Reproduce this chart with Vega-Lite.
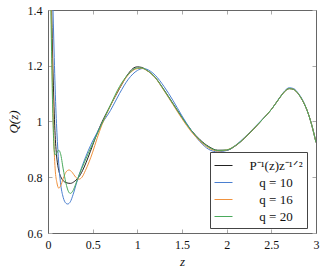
{
  "$schema": "https://vega.github.io/schema/vega-lite/v6.json",
  "autosize": "none",
  "width": 268,
  "height": 223,
  "padding": {"left": 48, "top": 10, "right": 10, "bottom": 37},
  "config": {
    "font": "Liberation Serif, Times New Roman, serif",
    "view": {"stroke": null},
    "axis": {"grid": false, "domainColor": "#666", "domainWidth": 1, "tickColor": "#aaa", "tickSize": -4, "labelFont": "Liberation Serif, Times New Roman, serif", "labelFontSize": 12, "labelColor": "#111", "titleFont": "Liberation Serif, Times New Roman, serif", "titleFontStyle": "italic", "titleFontWeight": "normal", "titleFontSize": 13, "titleColor": "#111"}
  },
  "data": {"values": [
    {"z":0.03,"Q":1.60,"series":"P⁻¹(z)z⁻¹ᐟ²"},{"z":0.04,"Q":1.42,"series":"P⁻¹(z)z⁻¹ᐟ²"},{"z":0.05,"Q":1.26,"series":"P⁻¹(z)z⁻¹ᐟ²"},{"z":0.06,"Q":1.13,"series":"P⁻¹(z)z⁻¹ᐟ²"},{"z":0.07,"Q":1.03,"series":"P⁻¹(z)z⁻¹ᐟ²"},{"z":0.08,"Q":0.95,"series":"P⁻¹(z)z⁻¹ᐟ²"},{"z":0.09,"Q":0.90,"series":"P⁻¹(z)z⁻¹ᐟ²"},{"z":0.1,"Q":0.865,"series":"P⁻¹(z)z⁻¹ᐟ²"},{"z":0.12,"Q":0.825,"series":"P⁻¹(z)z⁻¹ᐟ²"},{"z":0.15,"Q":0.797,"series":"P⁻¹(z)z⁻¹ᐟ²"},{"z":0.2,"Q":0.781,"series":"P⁻¹(z)z⁻¹ᐟ²"},{"z":0.25,"Q":0.778,"series":"P⁻¹(z)z⁻¹ᐟ²"},{"z":0.3,"Q":0.786,"series":"P⁻¹(z)z⁻¹ᐟ²"},{"z":0.35,"Q":0.803,"series":"P⁻¹(z)z⁻¹ᐟ²"},{"z":0.4,"Q":0.833,"series":"P⁻¹(z)z⁻¹ᐟ²"},{"z":0.45,"Q":0.872,"series":"P⁻¹(z)z⁻¹ᐟ²"},{"z":0.5,"Q":0.915,"series":"P⁻¹(z)z⁻¹ᐟ²"},{"z":0.55,"Q":0.958,"series":"P⁻¹(z)z⁻¹ᐟ²"},{"z":0.6,"Q":0.995,"series":"P⁻¹(z)z⁻¹ᐟ²"},{"z":0.7,"Q":1.058,"series":"P⁻¹(z)z⁻¹ᐟ²"},{"z":0.8,"Q":1.118,"series":"P⁻¹(z)z⁻¹ᐟ²"},{"z":0.9,"Q":1.172,"series":"P⁻¹(z)z⁻¹ᐟ²"},{"z":0.95,"Q":1.19,"series":"P⁻¹(z)z⁻¹ᐟ²"},{"z":1.0,"Q":1.196,"series":"P⁻¹(z)z⁻¹ᐟ²"},{"z":1.05,"Q":1.194,"series":"P⁻¹(z)z⁻¹ᐟ²"},{"z":1.1,"Q":1.185,"series":"P⁻¹(z)z⁻¹ᐟ²"},{"z":1.2,"Q":1.158,"series":"P⁻¹(z)z⁻¹ᐟ²"},{"z":1.3,"Q":1.113,"series":"P⁻¹(z)z⁻¹ᐟ²"},{"z":1.4,"Q":1.064,"series":"P⁻¹(z)z⁻¹ᐟ²"},{"z":1.5,"Q":1.015,"series":"P⁻¹(z)z⁻¹ᐟ²"},{"z":1.6,"Q":0.97,"series":"P⁻¹(z)z⁻¹ᐟ²"},{"z":1.7,"Q":0.935,"series":"P⁻¹(z)z⁻¹ᐟ²"},{"z":1.8,"Q":0.91,"series":"P⁻¹(z)z⁻¹ᐟ²"},{"z":1.9,"Q":0.897,"series":"P⁻¹(z)z⁻¹ᐟ²"},{"z":2.0,"Q":0.897,"series":"P⁻¹(z)z⁻¹ᐟ²"},{"z":2.1,"Q":0.913,"series":"P⁻¹(z)z⁻¹ᐟ²"},{"z":2.2,"Q":0.94,"series":"P⁻¹(z)z⁻¹ᐟ²"},{"z":2.3,"Q":0.972,"series":"P⁻¹(z)z⁻¹ᐟ²"},{"z":2.4,"Q":1.007,"series":"P⁻¹(z)z⁻¹ᐟ²"},{"z":2.5,"Q":1.043,"series":"P⁻¹(z)z⁻¹ᐟ²"},{"z":2.6,"Q":1.088,"series":"P⁻¹(z)z⁻¹ᐟ²"},{"z":2.65,"Q":1.108,"series":"P⁻¹(z)z⁻¹ᐟ²"},{"z":2.7,"Q":1.118,"series":"P⁻¹(z)z⁻¹ᐟ²"},{"z":2.75,"Q":1.115,"series":"P⁻¹(z)z⁻¹ᐟ²"},{"z":2.8,"Q":1.1,"series":"P⁻¹(z)z⁻¹ᐟ²"},{"z":2.85,"Q":1.075,"series":"P⁻¹(z)z⁻¹ᐟ²"},{"z":2.9,"Q":1.04,"series":"P⁻¹(z)z⁻¹ᐟ²"},{"z":2.95,"Q":0.99,"series":"P⁻¹(z)z⁻¹ᐟ²"},{"z":3.0,"Q":0.925,"series":"P⁻¹(z)z⁻¹ᐟ²"},

    {"z":0.04,"Q":1.62,"series":"q = 10"},{"z":0.05,"Q":1.48,"series":"q = 10"},{"z":0.06,"Q":1.35,"series":"q = 10"},{"z":0.07,"Q":1.23,"series":"q = 10"},{"z":0.08,"Q":1.12,"series":"q = 10"},{"z":0.09,"Q":1.03,"series":"q = 10"},{"z":0.1,"Q":0.96,"series":"q = 10"},{"z":0.11,"Q":0.9,"series":"q = 10"},{"z":0.12,"Q":0.85,"series":"q = 10"},{"z":0.14,"Q":0.78,"series":"q = 10"},{"z":0.17,"Q":0.728,"series":"q = 10"},{"z":0.2,"Q":0.707,"series":"q = 10"},{"z":0.22,"Q":0.704,"series":"q = 10"},{"z":0.25,"Q":0.712,"series":"q = 10"},{"z":0.28,"Q":0.737,"series":"q = 10"},{"z":0.32,"Q":0.78,"series":"q = 10"},{"z":0.35,"Q":0.81,"series":"q = 10"},{"z":0.4,"Q":0.855,"series":"q = 10"},{"z":0.45,"Q":0.895,"series":"q = 10"},{"z":0.5,"Q":0.93,"series":"q = 10"},{"z":0.55,"Q":0.96,"series":"q = 10"},{"z":0.6,"Q":0.99,"series":"q = 10"},{"z":0.7,"Q":1.04,"series":"q = 10"},{"z":0.8,"Q":1.1,"series":"q = 10"},{"z":0.9,"Q":1.152,"series":"q = 10"},{"z":1.0,"Q":1.183,"series":"q = 10"},{"z":1.06,"Q":1.19,"series":"q = 10"},{"z":1.1,"Q":1.188,"series":"q = 10"},{"z":1.2,"Q":1.166,"series":"q = 10"},{"z":1.3,"Q":1.125,"series":"q = 10"},{"z":1.4,"Q":1.075,"series":"q = 10"},{"z":1.5,"Q":1.02,"series":"q = 10"},{"z":1.6,"Q":0.97,"series":"q = 10"},{"z":1.7,"Q":0.928,"series":"q = 10"},{"z":1.8,"Q":0.9,"series":"q = 10"},{"z":1.9,"Q":0.891,"series":"q = 10"},{"z":2.0,"Q":0.896,"series":"q = 10"},{"z":2.1,"Q":0.915,"series":"q = 10"},{"z":2.2,"Q":0.943,"series":"q = 10"},{"z":2.3,"Q":0.975,"series":"q = 10"},{"z":2.4,"Q":1.008,"series":"q = 10"},{"z":2.5,"Q":1.043,"series":"q = 10"},{"z":2.6,"Q":1.089,"series":"q = 10"},{"z":2.65,"Q":1.11,"series":"q = 10"},{"z":2.7,"Q":1.121,"series":"q = 10"},{"z":2.75,"Q":1.118,"series":"q = 10"},{"z":2.8,"Q":1.102,"series":"q = 10"},{"z":2.85,"Q":1.077,"series":"q = 10"},{"z":2.9,"Q":1.04,"series":"q = 10"},{"z":2.95,"Q":0.99,"series":"q = 10"},{"z":3.0,"Q":0.925,"series":"q = 10"},

    {"z":0.03,"Q":1.55,"series":"q = 16"},{"z":0.04,"Q":1.33,"series":"q = 16"},{"z":0.05,"Q":1.14,"series":"q = 16"},{"z":0.06,"Q":0.99,"series":"q = 16"},{"z":0.07,"Q":0.89,"series":"q = 16"},{"z":0.08,"Q":0.83,"series":"q = 16"},{"z":0.1,"Q":0.78,"series":"q = 16"},{"z":0.12,"Q":0.761,"series":"q = 16"},{"z":0.14,"Q":0.768,"series":"q = 16"},{"z":0.17,"Q":0.795,"series":"q = 16"},{"z":0.2,"Q":0.818,"series":"q = 16"},{"z":0.235,"Q":0.826,"series":"q = 16"},{"z":0.27,"Q":0.818,"series":"q = 16"},{"z":0.31,"Q":0.8,"series":"q = 16"},{"z":0.345,"Q":0.793,"series":"q = 16"},{"z":0.38,"Q":0.8,"series":"q = 16"},{"z":0.42,"Q":0.825,"series":"q = 16"},{"z":0.46,"Q":0.855,"series":"q = 16"},{"z":0.5,"Q":0.89,"series":"q = 16"},{"z":0.55,"Q":0.94,"series":"q = 16"},{"z":0.6,"Q":0.985,"series":"q = 16"},{"z":0.7,"Q":1.057,"series":"q = 16"},{"z":0.8,"Q":1.12,"series":"q = 16"},{"z":0.9,"Q":1.168,"series":"q = 16"},{"z":1.0,"Q":1.19,"series":"q = 16"},{"z":1.05,"Q":1.191,"series":"q = 16"},{"z":1.1,"Q":1.184,"series":"q = 16"},{"z":1.2,"Q":1.157,"series":"q = 16"},{"z":1.3,"Q":1.11,"series":"q = 16"},{"z":1.4,"Q":1.06,"series":"q = 16"},{"z":1.5,"Q":1.01,"series":"q = 16"},{"z":1.6,"Q":0.965,"series":"q = 16"},{"z":1.7,"Q":0.93,"series":"q = 16"},{"z":1.8,"Q":0.905,"series":"q = 16"},{"z":1.9,"Q":0.894,"series":"q = 16"},{"z":2.0,"Q":0.898,"series":"q = 16"},{"z":2.1,"Q":0.914,"series":"q = 16"},{"z":2.2,"Q":0.941,"series":"q = 16"},{"z":2.3,"Q":0.973,"series":"q = 16"},{"z":2.4,"Q":1.007,"series":"q = 16"},{"z":2.5,"Q":1.043,"series":"q = 16"},{"z":2.6,"Q":1.088,"series":"q = 16"},{"z":2.65,"Q":1.108,"series":"q = 16"},{"z":2.7,"Q":1.118,"series":"q = 16"},{"z":2.75,"Q":1.115,"series":"q = 16"},{"z":2.8,"Q":1.1,"series":"q = 16"},{"z":2.85,"Q":1.075,"series":"q = 16"},{"z":2.9,"Q":1.04,"series":"q = 16"},{"z":2.95,"Q":0.99,"series":"q = 16"},{"z":3.0,"Q":0.925,"series":"q = 16"},

    {"z":0.03,"Q":1.45,"series":"q = 20"},{"z":0.04,"Q":1.25,"series":"q = 20"},{"z":0.05,"Q":1.08,"series":"q = 20"},{"z":0.06,"Q":0.96,"series":"q = 20"},{"z":0.07,"Q":0.895,"series":"q = 20"},{"z":0.08,"Q":0.88,"series":"q = 20"},{"z":0.1,"Q":0.888,"series":"q = 20"},{"z":0.12,"Q":0.897,"series":"q = 20"},{"z":0.14,"Q":0.885,"series":"q = 20"},{"z":0.17,"Q":0.83,"series":"q = 20"},{"z":0.2,"Q":0.78,"series":"q = 20"},{"z":0.23,"Q":0.748,"series":"q = 20"},{"z":0.25,"Q":0.742,"series":"q = 20"},{"z":0.28,"Q":0.752,"series":"q = 20"},{"z":0.31,"Q":0.775,"series":"q = 20"},{"z":0.35,"Q":0.81,"series":"q = 20"},{"z":0.4,"Q":0.848,"series":"q = 20"},{"z":0.45,"Q":0.885,"series":"q = 20"},{"z":0.5,"Q":0.92,"series":"q = 20"},{"z":0.55,"Q":0.955,"series":"q = 20"},{"z":0.6,"Q":0.99,"series":"q = 20"},{"z":0.7,"Q":1.06,"series":"q = 20"},{"z":0.8,"Q":1.125,"series":"q = 20"},{"z":0.9,"Q":1.17,"series":"q = 20"},{"z":1.0,"Q":1.192,"series":"q = 20"},{"z":1.05,"Q":1.192,"series":"q = 20"},{"z":1.1,"Q":1.185,"series":"q = 20"},{"z":1.2,"Q":1.158,"series":"q = 20"},{"z":1.3,"Q":1.112,"series":"q = 20"},{"z":1.4,"Q":1.063,"series":"q = 20"},{"z":1.5,"Q":1.014,"series":"q = 20"},{"z":1.6,"Q":0.969,"series":"q = 20"},{"z":1.7,"Q":0.933,"series":"q = 20"},{"z":1.8,"Q":0.908,"series":"q = 20"},{"z":1.9,"Q":0.896,"series":"q = 20"},{"z":2.0,"Q":0.898,"series":"q = 20"},{"z":2.1,"Q":0.914,"series":"q = 20"},{"z":2.2,"Q":0.941,"series":"q = 20"},{"z":2.3,"Q":0.973,"series":"q = 20"},{"z":2.4,"Q":1.007,"series":"q = 20"},{"z":2.5,"Q":1.043,"series":"q = 20"},{"z":2.6,"Q":1.088,"series":"q = 20"},{"z":2.65,"Q":1.108,"series":"q = 20"},{"z":2.7,"Q":1.118,"series":"q = 20"},{"z":2.75,"Q":1.115,"series":"q = 20"},{"z":2.8,"Q":1.1,"series":"q = 20"},{"z":2.85,"Q":1.075,"series":"q = 20"},{"z":2.9,"Q":1.04,"series":"q = 20"},{"z":2.95,"Q":0.99,"series":"q = 20"},{"z":3.0,"Q":0.925,"series":"q = 20"}
  ]},
  "layer": [
    {
      "mark": {"type": "line", "clip": true, "interpolate": "monotone", "strokeWidth": 1},
      "encoding": {
        "x": {"field": "z", "type": "quantitative", "scale": {"domain": [0, 3], "nice": false, "zero": false}, "axis": {"title": "z", "values": [0, 0.5, 1, 1.5, 2, 2.5, 3], "format": "~g", "labelPadding": 10, "titlePadding": 5, "labelFlush": false}},
        "y": {"field": "Q", "type": "quantitative", "scale": {"domain": [0.6, 1.4], "nice": false, "zero": false}, "axis": {"title": "Q(z)", "values": [0.6, 0.8, 1, 1.2, 1.4], "format": "~g", "labelPadding": 10, "titlePadding": 7, "labelFlush": false}},
        "color": {"field": "series", "type": "nominal", "scale": {"domain": ["P⁻¹(z)z⁻¹ᐟ²", "q = 10", "q = 16", "q = 20"], "range": ["#222222", "#4a7fd0", "#f0923e", "#4aaa5c"]},
          "legend": {"title": null, "orient": "none", "legendX": 162, "legendY": 142, "symbolType": "stroke", "symbolSize": 324, "symbolStrokeWidth": 1, "labelFont": "Liberation Serif, Times New Roman, serif", "labelFontSize": 13, "labelColor": "#111", "labelAlign": "center", "labelOffset": 43, "rowPadding": 0, "padding": 4, "strokeColor": "#444", "fillColor": "white", "cornerRadius": 0,
            "encode": {"symbols": {"update": {"stroke": {"scale": "color", "field": "value"}, "strokeWidth": {"value": 1}}}}}},
        "order": {"field": "series", "type": "nominal"}
      }
    },
    {
      "mark": {"type": "line", "opacity": 0},
      "encoding": {
        "x": {"field": "z", "type": "quantitative", "axis": {"orient": "top", "title": null, "labels": false, "values": [0, 0.5, 1, 1.5, 2, 2.5, 3]}},
        "y": {"field": "Q", "type": "quantitative", "axis": {"orient": "right", "title": null, "labels": false, "values": [0.6, 0.8, 1, 1.2, 1.4]}},
        "detail": {"field": "series", "type": "nominal"}
      }
    }
  ],
  "resolve": {"axis": {"x": "independent", "y": "independent"}}
}
